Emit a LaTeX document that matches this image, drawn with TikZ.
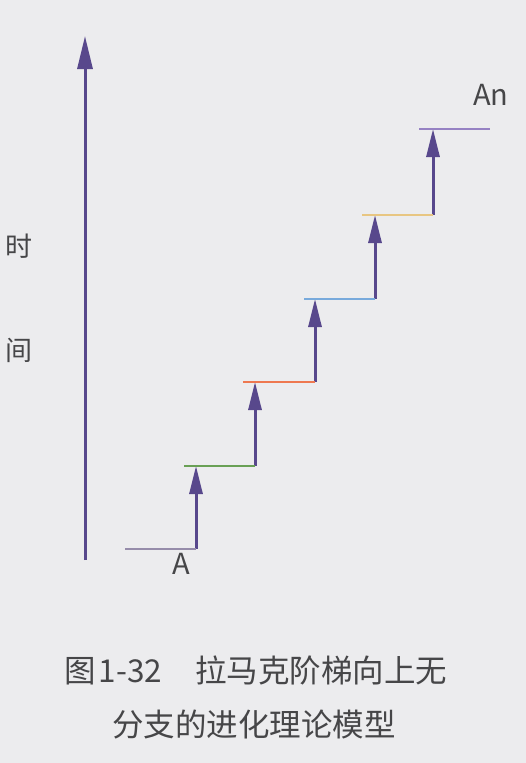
\documentclass[tikz,border=0pt]{standalone}
\usepackage{fontspec}
\setmainfont{Noto Sans CJK SC}
\usetikzlibrary{arrows.meta}
\definecolor{paper}{RGB}{236,236,238}
\definecolor{arrowc}{RGB}{88,72,140}
\definecolor{basec}{RGB}{150,140,170}
\definecolor{greenc}{RGB}{105,160,85}
\definecolor{orangec}{RGB}{238,120,80}
\definecolor{bluec}{RGB}{120,170,220}
\definecolor{yellowc}{RGB}{232,198,130}
\definecolor{purplec}{RGB}{150,130,195}
\definecolor{textc}{RGB}{70,70,72}
\tikzset{
  uparrow/.style={draw=arrowc, line width=3pt, -{Triangle[length=28pt,width=13pt]}},
  bigarrow/.style={draw=arrowc, line width=3pt, -{Triangle[length=33pt,width=15pt]}},
  stepline/.style={line width=2.5pt},
  lbl/.style={text=textc, inner sep=0pt},
}
\begin{document}
\begin{tikzpicture}[x=1pt,y=-1pt]
\fill[paper] (0,0) rectangle (526,763);
\useasboundingbox (0,0) rectangle (526,763);
% main time axis
\coordinate (ax0) at (85,560);
\coordinate (ax1) at (85,36);
\draw[bigarrow] (ax0) -- (ax1);
\node[lbl, font=\fontsize{27}{27}\selectfont] (shi) at (19,246) {时};
\node[lbl, font=\fontsize{27}{27}\selectfont] (jian) at (19,350) {间};
% staircase coordinates
\coordinate (b0) at (125,549);
\coordinate (c0) at (196,549);
\coordinate (g0) at (184,466); \coordinate (t1) at (196,466); \coordinate (g1) at (255,466);
\coordinate (o0) at (243,382); \coordinate (t2) at (255,382); \coordinate (o1) at (315,382);
\coordinate (u0) at (304,299); \coordinate (t3) at (315,299); \coordinate (u1) at (375,299);
\coordinate (y0) at (362,215); \coordinate (t4) at (375,215); \coordinate (y1) at (433,215);
\coordinate (p0) at (419,129); \coordinate (t5) at (433,129); \coordinate (p1) at (490,129);
% arrows
\draw[uparrow] (c0) -- (t1);
\draw[uparrow] (g1) -- (t2);
\draw[uparrow] (o1) -- (t3);
\draw[uparrow] (u1) -- (t4);
\draw[uparrow] (y1) -- (t5);
% steps
\draw[stepline, basec] (b0) -- (c0);
\draw[stepline, greenc] (g0) -- (g1);
\draw[stepline, orangec] (o0) -- (o1);
\draw[stepline, bluec] (u0) -- (u1);
\draw[stepline, yellowc] (y0) -- (y1);
\draw[stepline, purplec] (p0) -- (p1);
% labels
\node[lbl, font=\fontsize{29}{29}\selectfont] (A) at (181,564) {A};
\node[lbl, font=\fontsize{29}{29}\selectfont] (An) at (491,95) {An};
% caption
\node[lbl, anchor=west, font=\fontsize{31.5}{31.5}\selectfont] (cap1) at (64,670) {图\hspace{3pt}1-32\hspace{33pt}拉马克阶梯向上无};
\node[lbl, anchor=west, font=\fontsize{31.5}{31.5}\selectfont] (cap2) at (112,725) {分支的进化理论模型};
\end{tikzpicture}
\end{document}
